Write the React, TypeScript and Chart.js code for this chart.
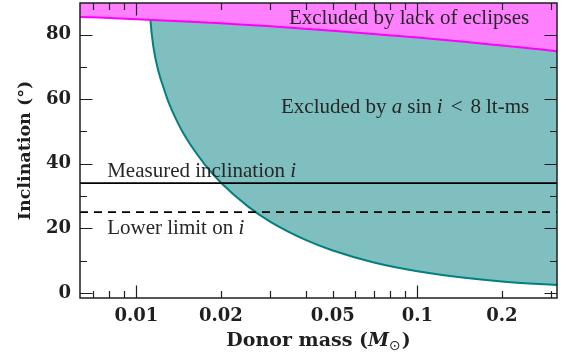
import React, { useEffect, useRef } from 'react';
import { Chart, registerables } from 'chart.js';

Chart.register(...registerables);

// Axis ranges
const massMin = 0.0063;
const massMax = 0.314;
const incMin = -1.6;
const incMax = 89.8;

// Boundary of the region excluded by a sin i < 8 lt-ms
const asiniMass = [0.01116, 0.01118, 0.0112, 0.0115, 0.012, 0.0125, 0.013, 0.014, 0.015, 0.0175, 0.02, 0.025, 0.03, 0.04, 0.05, 0.07, 0.1, 0.15, 0.2, 0.25, 0.32];
const asiniInc = [89.5, 86.6, 85.3, 76.1, 68.4, 63.5, 59.2, 52.9, 48.1, 39.8, 34.1, 26.7, 22.0, 16.4, 13.1, 9.4, 6.7, 4.6, 3.5, 2.9, 2.4];

// Boundary of the region excluded by the lack of eclipses
const eclipseMass = [0.0063, 0.01, 0.015, 0.02, 0.03, 0.05, 0.07, 0.1, 0.15, 0.2, 0.32];
const eclipseInc = [85.5, 84.8, 84.1, 83.5, 82.6, 81.2, 80.2, 79.1, 77.7, 76.6, 74.8];

// Inclination constraints
const measuredInclination = 34;
const lowerLimitInclination = 25;

// Tick marks and labels
const massTicks = [0.007, 0.008, 0.009, 0.01, 0.02, 0.03, 0.04, 0.05, 0.06, 0.07, 0.08, 0.09, 0.1, 0.2, 0.3];
const massLabelValues = [0.01, 0.02, 0.05, 0.1, 0.2];
const massLabelTexts = ['0.01', '0.02', '0.05', '0.1', '0.2'];
const incMajorTicks = [0, 20, 40, 60, 80];
const incMinorTicks = [10, 30, 50, 70];

const INK = '#1f1f1f';
const TEXT = '#262626';
const SERIF = '"Liberation Serif", "DejaVu Serif", serif';

type Run = { text: string; font: string; gap?: number; dy?: number };

function drawRuns(ctx: CanvasRenderingContext2D, runs: Run[], x: number, y: number, align: 'left' | 'right' | 'center') {
  let total = 0;
  const widths = runs.map((r) => {
    ctx.font = r.font;
    const w = ctx.measureText(r.text).width;
    total += w + (r.gap || 0);
    return w;
  });
  let cx = align === 'left' ? x : align === 'right' ? x - total : x - total / 2;
  ctx.textAlign = 'left';
  runs.forEach((r, k) => {
    cx += r.gap || 0;
    ctx.font = r.font;
    ctx.fillText(r.text, cx, y + (r.dy || 0));
    cx += widths[k];
  });
}

const isDecade = (v: number) => Math.abs(Math.log10(v) - Math.round(Math.log10(v))) < 1e-6;

const overlayPlugin = {
  id: 'overlay',
  afterDatasetsDraw(chart: any) {
    const { ctx, chartArea: a, scales } = chart;
    const x = scales.x;
    const y = scales.y;
    ctx.save();

    // Region and line annotations
    ctx.fillStyle = TEXT;
    ctx.textBaseline = 'alphabetic';
    const roman = `21px ${SERIF}`;
    const ital = `italic 21px ${SERIF}`;
    drawRuns(ctx, [{ text: 'Excluded by lack of eclipses', font: roman }], x.getPixelForValue(0.25), y.getPixelForValue(83.3), 'right');
    drawRuns(
      ctx,
      [
        { text: 'Excluded by ', font: roman },
        { text: 'a', font: ital },
        { text: 'sin', font: roman, gap: 5 },
        { text: 'i', font: ital, gap: 5 },
        { text: '<', font: roman, gap: 8 },
        { text: '8', font: roman, gap: 8 },
        { text: 'lt-ms', font: roman, gap: 5 },
      ],
      x.getPixelForValue(0.25),
      y.getPixelForValue(55.6),
      'right'
    );
    drawRuns(ctx, [{ text: 'Measured inclination ', font: roman }, { text: 'i', font: ital }], x.getPixelForValue(0.00787), y.getPixelForValue(measuredInclination) - 6.5, 'left');
    drawRuns(ctx, [{ text: 'Lower limit on ', font: roman }, { text: 'i', font: ital }], x.getPixelForValue(0.00787), y.getPixelForValue(lowerLimitInclination) + 22, 'left');

    // Inward tick marks on all four sides
    ctx.strokeStyle = INK;
    ctx.lineWidth = 1.2;
    ctx.beginPath();
    massTicks.forEach((v) => {
      const px = Math.round(x.getPixelForValue(v)) + 0.5;
      const len = isDecade(v) ? 12.5 : 7;
      ctx.moveTo(px, a.bottom);
      ctx.lineTo(px, a.bottom - len);
      ctx.moveTo(px, a.top);
      ctx.lineTo(px, a.top + len);
    });
    const yTick = (v: number, len: number) => {
      const py = Math.round(y.getPixelForValue(v)) + 0.5;
      ctx.moveTo(a.left, py);
      ctx.lineTo(a.left + len, py);
      ctx.moveTo(a.right, py);
      ctx.lineTo(a.right - len, py);
    };
    incMajorTicks.forEach((v) => yTick(v, 12.5));
    incMinorTicks.forEach((v) => yTick(v, 7));
    ctx.stroke();

    // Frame
    ctx.lineWidth = 1.5;
    ctx.strokeRect(a.left, a.top, a.right - a.left, a.bottom - a.top);

    // Axis titles
    ctx.fillStyle = INK;
    const titleBold = 'bold 19px "DejaVu Serif", serif';
    drawRuns(
      ctx,
      [
        { text: 'Donor mass (', font: titleBold },
        { text: 'M', font: 'italic bold 19px "DejaVu Serif", serif' },
        { text: '\u2299', font: '14px "DejaVu Sans", serif', dy: 4 },
        { text: ')', font: titleBold, gap: 1 },
      ],
      (a.left + a.right) / 2,
      346,
      'center'
    );
    ctx.translate(30, (a.top + a.bottom) / 2);
    ctx.rotate(-Math.PI / 2);
    drawRuns(ctx, [{ text: 'Inclination (\u00b0)', font: 'bold 17.5px "DejaVu Serif", serif' }], 0, 0, 'center');

    ctx.restore();
  },
};

export default function App() {
  const canvasRef = useRef<HTMLCanvasElement | null>(null);

  useEffect(() => {
    const canvas = canvasRef.current;
    if (!canvas) return;

    const asiniPoints = asiniMass.map((m, k) => ({ x: m, y: asiniInc[k] }));
    const eclipsePoints = eclipseMass.map((m, k) => ({ x: m, y: eclipseInc[k] }));

    const chart = new Chart(canvas, {
      type: 'line',
      data: {
        datasets: [
          {
            label: 'Measured inclination',
            data: [
              { x: massMin, y: measuredInclination },
              { x: massMax, y: measuredInclination },
            ],
            borderColor: '#000000',
            borderWidth: 1.6,
            pointRadius: 0,
            fill: false,
            order: 0,
          },
          {
            label: 'Lower limit',
            data: [
              { x: massMin, y: lowerLimitInclination },
              { x: massMax, y: lowerLimitInclination },
            ],
            borderColor: '#000000',
            borderWidth: 1.6,
            borderDash: [8, 6],
            pointRadius: 0,
            fill: false,
            order: 0,
          },
          {
            label: 'Excluded by lack of eclipses',
            data: eclipsePoints,
            borderColor: '#ff00ff',
            backgroundColor: '#ff80ff',
            borderWidth: 2,
            pointRadius: 0,
            cubicInterpolationMode: 'monotone',
            fill: 'end',
            order: 1,
          },
          {
            label: 'Excluded by a sin i < 8 lt-ms',
            data: asiniPoints,
            borderColor: '#008080',
            backgroundColor: '#80bfbf',
            borderWidth: 2,
            pointRadius: 0,
            cubicInterpolationMode: 'monotone',
            fill: 'end',
            order: 2,
          },
        ],
      },
      options: {
        animation: false,
        responsive: false,
        maintainAspectRatio: false,
        events: [],
        layout: { padding: { top: 3, right: 10, left: 0, bottom: 0 } },
        plugins: { legend: { display: false }, tooltip: { enabled: false } },
        scales: {
          x: {
            type: 'logarithmic',
            min: massMin,
            max: massMax,
            grid: { display: false, drawTicks: false },
            border: { display: false },
            afterFit: (s: any) => {
              s.height = 58;
              s.paddingLeft = 0;
              s.paddingRight = 0;
            },
            afterBuildTicks: (s: any) => {
              s.ticks = massTicks.map((v) => ({ value: v }));
            },
            ticks: {
              autoSkip: false,
              maxRotation: 0,
              padding: 8,
              color: INK,
              font: { family: '"DejaVu Serif", serif', size: 18, weight: 'bold' },
              callback: (v: any) => {
                const k = massLabelValues.findIndex((m) => Math.abs(m - Number(v)) < 1e-9);
                return k >= 0 ? massLabelTexts[k] : '';
              },
            },
          },
          y: {
            type: 'linear',
            min: incMin,
            max: incMax,
            grid: { display: false, drawTicks: false },
            border: { display: false },
            afterFit: (s: any) => {
              s.width = 80;
              s.paddingTop = 0;
              s.paddingBottom = 0;
            },
            afterBuildTicks: (s: any) => {
              s.ticks = incMajorTicks.map((v) => ({ value: v }));
            },
            ticks: {
              padding: 9,
              color: INK,
              font: { family: '"DejaVu Serif", serif', size: 18, weight: 'bold' },
              callback: (v: any) => String(v),
            },
          },
        },
      },
      plugins: [overlayPlugin],
    });

    return () => chart.destroy();
  }, []);

  return (
    <div style={{ position: 'absolute', left: 0, top: 0, width: 567, height: 356, background: '#ffffff' }}>
      <canvas ref={canvasRef} width={567} height={356} style={{ width: 567, height: 356, display: 'block' }} />
    </div>
  );
}
